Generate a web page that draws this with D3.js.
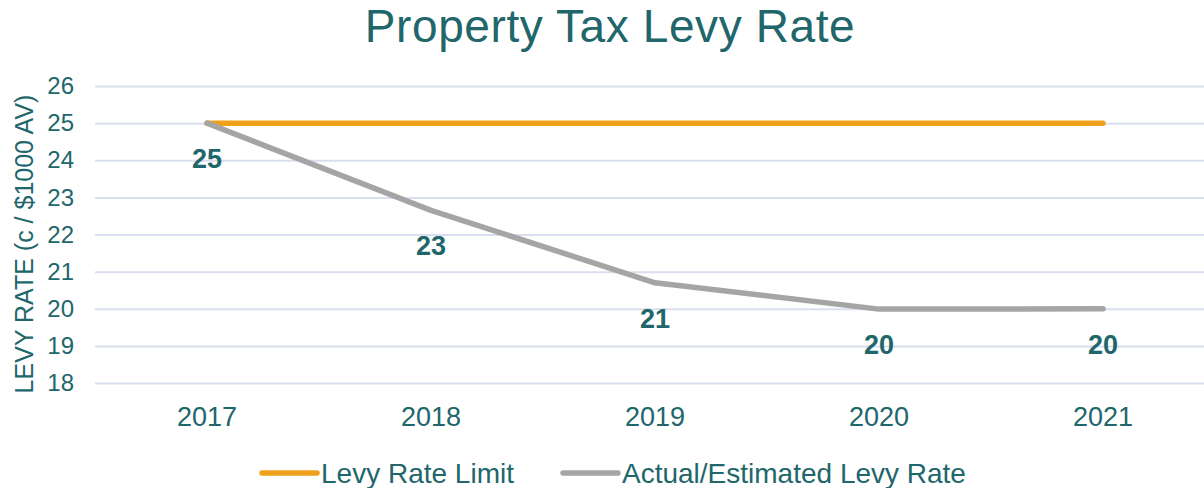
<!DOCTYPE html>
<html>
<head>
<meta charset="utf-8">
<script src="https://cdn.jsdelivr.net/npm/d3@7"></script>
<style>
  body { margin: 0; background: #fff; }
  svg { display: block; font-family: 'Liberation Sans', Arial, sans-serif; }
  .tick text { fill: #21666a; }
</style>
</head>
<body>
<div id="chart"></div>
<script>
// data
const years = ['2017', '2018', '2019', '2020', '2021']
const limitRate = [25, 25, 25, 25, 25]
const actualRate = [25, 22.65, 20.7, 19.99, 20.0]
const yTicks = [18, 19, 20, 21, 22, 23, 24, 25, 26]
const seriesNames = ['Levy Rate Limit', 'Actual/Estimated Levy Rate']

const width = 1204
const height = 488
const margin = {top: 86, right: -11, bottom: 105, left: 95}
const textColor = '#21666a'
const colors = ['#efa11b', '#a5a5a5']

const svg = d3.select('#chart')
  .append('svg')
  .attr('width', width)
  .attr('height', height)

const x = d3.scaleBand()
  .domain(years)
  .range([margin.left, width - margin.right])
  .padding(0)

const y = d3.scaleLinear()
  .domain([18, 26])
  .range([height - margin.bottom, margin.top])

const cx = (d) => x(d) + x.bandwidth() / 2

// title
svg.append('text')
  .attr('x', 610)
  .attr('y', 42)
  .attr('text-anchor', 'middle')
  .style('font-size', '46px')
  .style('letter-spacing', '0.6px')
  .style('fill', textColor)
  .text('Property Tax Levy Rate')

// gridlines
svg.append('g')
  .attr('transform', `translate(${margin.left},0)`)
  .call(d3.axisLeft(y).tickValues(yTicks).tickSize(-(width - margin.right - margin.left)).tickFormat(''))
  .call(g => g.select('.domain').remove())
  .call(g => g.selectAll('.tick line').attr('stroke', '#d9dfee').attr('stroke-width', 2))

// y axis labels
svg.append('g')
  .attr('transform', `translate(${margin.left},0)`)
  .call(d3.axisLeft(y).tickValues(yTicks).tickSize(0).tickPadding(21))
  .call(g => g.select('.domain').remove())
  .call(g => g.selectAll('.tick text').style('font-size', '24px').attr('font-family', null))

// x axis labels
svg.append('g')
  .attr('transform', `translate(0,${y(18)})`)
  .call(d3.axisBottom(x).tickSize(0))
  .call(g => g.select('.domain').remove())
  .call(g => g.selectAll('.tick text')
    .attr('dy', null)
    .attr('y', 426 - y(18))
    .attr('font-family', null)
    .style('font-size', '27px'))

// y axis title
svg.append('text')
  .attr('transform', `translate(33,${244}) rotate(-90)`)
  .attr('text-anchor', 'middle')
  .style('font-size', '25px')
  .style('fill', textColor)
  .text('LEVY RATE (c / $1000 AV)')

// lines
const line = d3.line()
  .x((d, i) => cx(years[i]))
  .y((d) => y(d))

const series = [limitRate, actualRate]
svg.selectAll('.series')
  .data(series)
  .enter()
  .append('path')
  .attr('class', 'series')
  .attr('d', line)
  .attr('fill', 'none')
  .attr('stroke', (d, i) => colors[i])
  .attr('stroke-width', 5.5)
  .attr('stroke-linecap', 'round')
  .attr('stroke-linejoin', 'round')

// data labels for actual rate
svg.selectAll('.val-label')
  .data(actualRate)
  .enter()
  .append('text')
  .attr('class', 'val-label')
  .attr('x', (d, i) => cx(years[i]))
  .attr('y', (d) => y(d) + 45)
  .attr('text-anchor', 'middle')
  .style('font-size', '27px')
  .style('font-weight', 'bold')
  .style('fill', textColor)
  .text((d) => d3.format('.0f')(d))

// legend
const legendX = [262, 563]
const legend = svg.selectAll('.legend')
  .data(seriesNames)
  .enter()
  .append('g')
  .attr('class', 'legend')
  .attr('transform', (d, i) => `translate(${legendX[i]},473)`)

legend.append('line')
  .attr('x1', 0)
  .attr('x2', 55)
  .attr('stroke', (d, i) => colors[i])
  .attr('stroke-width', 5.5)
  .attr('stroke-linecap', 'round')

legend.append('text')
  .attr('x', 59)
  .attr('y', 10)
  .style('font-size', '28px')
  .style('fill', textColor)
  .text((d) => d)
</script>
</body>
</html>
